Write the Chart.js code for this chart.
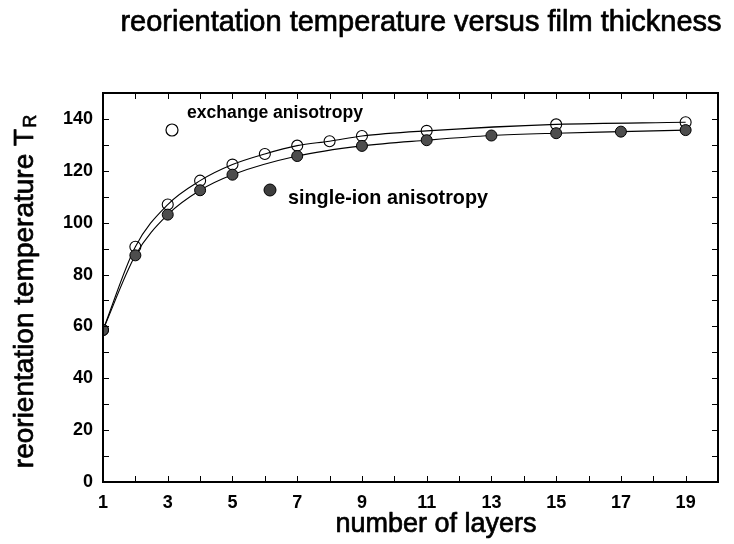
<!DOCTYPE html>
<html><head><meta charset="utf-8">
<script src="https://cdn.jsdelivr.net/npm/chart.js@4/dist/chart.umd.min.js"></script>
<style>html,body{margin:0;padding:0;background:#fff}#wrap{width:734px;height:544px}</style>
</head><body><div id="wrap"><canvas id="c" width="734" height="544"></canvas></div>
<script>
// ---- data ----
const exchangeLayers = [1, 2, 3, 4, 5, 6, 7, 8, 9, 11, 15, 19];
const exchangeTR     = [58.6, 90.7, 107.0, 116.2, 122.4, 126.5, 129.7, 131.4, 133.4, 135.4, 137.9, 138.7];
const singleIonLayers = [1, 2, 3, 4, 5, 7, 9, 11, 13, 15, 17, 19];
const singleIonTR     = [58.6, 87.4, 103.1, 112.5, 118.5, 125.7, 129.6, 131.8, 133.6, 134.5, 135.1, 135.7];
const xTickLabels = [1, 3, 5, 7, 9, 11, 13, 15, 17, 19];
const xMinorTicks = [1,2,3,4,5,6,7,8,9,10,11,12,13,14,15,16,17,18,19,20];
const yTickLabels = [0, 20, 40, 60, 80, 100, 120, 140];
const yMinorTicks = [0,10,20,30,40,50,60,70,80,90,100,110,120,130,140,150];
const titleText = 'reorientation temperature versus film thickness';
const xTitle = 'number of layers';
const yTitleMain = 'reorientation temperature T';
const yTitleSub = 'R';
const legendExchange = 'exchange anisotropy';
const legendSingle = 'single-ion anisotropy';

const FONT = '"Liberation Sans", Arial, Helvetica, sans-serif';
const FILL_DARK = '#4d4d4d';

const toXY = (xs, ys) => xs.map((x, i) => ({x: x, y: ys[i]}));

function heavyText(ctx, txt, x, y, sw) {
  ctx.fillText(txt, x, y);
  ctx.lineWidth = sw;
  ctx.strokeStyle = '#000';
  ctx.lineJoin = 'round';
  ctx.strokeText(txt, x, y);
}

const deco = {
  id: 'deco',
  afterDatasetsDraw(chart) {
    const ctx = chart.ctx, a = chart.chartArea;
    const xs = chart.scales.x, ys = chart.scales.y;
    ctx.save();
    // inward ticks on all four sides
    ctx.strokeStyle = '#000'; ctx.lineWidth = 1;
    const T = 6;
    ctx.beginPath();
    xMinorTicks.forEach(v => {
      const px = Math.round(xs.getPixelForValue(v)) + 0.5;
      ctx.moveTo(px, a.bottom); ctx.lineTo(px, a.bottom - T);
      ctx.moveTo(px, a.top); ctx.lineTo(px, a.top + T);
    });
    yMinorTicks.forEach(v => {
      const py = Math.round(ys.getPixelForValue(v)) + 0.5;
      ctx.moveTo(a.left, py); ctx.lineTo(a.left + T, py);
      ctx.moveTo(a.right, py); ctx.lineTo(a.right - T, py);
    });
    ctx.stroke();
    // frame
    ctx.lineWidth = 2;
    ctx.strokeRect(a.left, a.top, a.right - a.left, a.bottom - a.top);

    // legend keys (placed inside the plot area)
    const kx1 = a.left + 69, ky1 = a.top + 37;
    ctx.beginPath(); ctx.arc(kx1, ky1, 6, 0, Math.PI * 2);
    ctx.fillStyle = '#fff'; ctx.fill(); ctx.lineWidth = 1.2; ctx.strokeStyle = '#000'; ctx.stroke();
    const kx2 = a.left + 167, ky2 = a.top + 97;
    ctx.beginPath(); ctx.arc(kx2, ky2, 6, 0, Math.PI * 2);
    ctx.fillStyle = '#3d3d3d'; ctx.fill(); ctx.lineWidth = 1; ctx.strokeStyle = '#000'; ctx.stroke();

    ctx.fillStyle = '#000';
    ctx.textBaseline = 'alphabetic'; ctx.textAlign = 'left';
    ctx.font = 'bold 17.6px ' + FONT;
    ctx.fillText(legendExchange, a.left + 84, a.top + 25);
    ctx.font = 'bold 19.8px ' + FONT;
    ctx.fillText(legendSingle, a.left + 185, a.top + 111);

    // title
    ctx.font = '29px ' + FONT;
    ctx.textAlign = 'center';
    heavyText(ctx, titleText, 421, 31, 0.7);

    // x title
    ctx.font = '27px ' + FONT;
    heavyText(ctx, xTitle, 436, 532, 0.7);

    // y title with subscript
    ctx.save();
    ctx.translate(33, 292);
    ctx.rotate(-Math.PI / 2);
    ctx.font = '28px ' + FONT;
    const w1 = ctx.measureText(yTitleMain).width;
    ctx.font = '18px ' + FONT;
    const w2 = ctx.measureText(yTitleSub).width;
    const start = -(w1 + w2) / 2;
    ctx.textAlign = 'left';
    ctx.font = '28px ' + FONT;
    heavyText(ctx, yTitleMain, start, 0, 0.7);
    ctx.font = '18px ' + FONT;
    heavyText(ctx, yTitleSub, start + w1 + 1, 3, 0.6);
    ctx.restore();

    ctx.restore();
  }
};

new Chart(document.getElementById('c'), {
  type: 'scatter',
  data: {
    datasets: [
      {
        label: 'exchange markers',
        data: toXY(exchangeLayers, exchangeTR),
        showLine: false, clip: 1,
        pointRadius: 5.5, pointHoverRadius: 5.5,
        pointBackgroundColor: '#fff', pointBorderColor: '#000', pointBorderWidth: 1.1,
        order: 3
      },
      {
        label: 'exchange curve',
        data: toXY(exchangeLayers, exchangeTR),
        showLine: true, pointRadius: 0,
        borderColor: '#000', borderWidth: 1.1,
        cubicInterpolationMode: 'monotone',
        order: 2
      },
      {
        label: 'single-ion curve',
        data: toXY(singleIonLayers, singleIonTR),
        showLine: true, pointRadius: 0,
        borderColor: '#000', borderWidth: 1.1,
        cubicInterpolationMode: 'monotone',
        order: 2
      },
      {
        label: 'single-ion markers',
        data: toXY(singleIonLayers, singleIonTR),
        showLine: false, clip: 1,
        pointRadius: 5.5, pointHoverRadius: 5.5,
        pointBackgroundColor: FILL_DARK, pointBorderColor: '#000', pointBorderWidth: 1,
        order: 1
      }
    ]
  },
  options: {
    responsive: false,
    animation: false,
    devicePixelRatio: 1,
    layout: { padding: { top: 93, right: 16, left: 0, bottom: 0 } },
    plugins: { legend: { display: false }, tooltip: { enabled: false }, title: { display: false } },
    scales: {
      x: {
        type: 'linear', min: 1, max: 20,
        afterFit: s => { s.height = 62; },
        afterBuildTicks: s => { s.ticks = xTickLabels.map(v => ({value: v})); },
        grid: { display: false, drawTicks: false },
        border: { display: false },
        ticks: { color: '#000', padding: 10, maxRotation: 0, autoSkip: false,
                 font: { family: FONT, size: 18, weight: 'bold' } }
      },
      y: {
        type: 'linear', min: 0, max: 150,
        afterFit: s => { s.width = 103; },
        afterBuildTicks: s => { s.ticks = yTickLabels.map(v => ({value: v})); },
        grid: { display: false, drawTicks: false },
        border: { display: false },
        ticks: { color: '#000', padding: 10,
                 font: { family: FONT, size: 18, weight: 'bold' } }
      }
    }
  },
  plugins: [deco]
});
</script>
</body></html>
